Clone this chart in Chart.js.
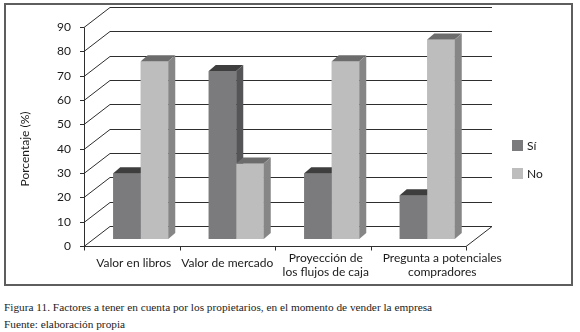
<!DOCTYPE html>
<html>
<head>
<meta charset="utf-8">
<script src="https://cdn.jsdelivr.net/npm/chart.js@4"></script>
<style>
  body { margin: 0; background: #fff; }
  #wrap { position: relative; width: 580px; height: 332px; }
  #chart { position: absolute; left: 0; top: 0; }
  #caption {
    position: absolute; left: 4px; top: 299px;
    font-family: "Liberation Serif", "DejaVu Serif", serif;
    font-size: 11.3px; line-height: 17px; color: #222;
  }
</style>
</head>
<body>
<div id="wrap">
  <canvas id="chart" width="580" height="292"></canvas>
  <div id="caption">
    Figura 11. Factores a tener en cuenta por los propietarios, en el momento de vender la empresa<br>
    Fuente: elaboración propia
  </div>
</div>
<script>
const categories = [
  ["Valor en libros"],
  ["Valor de mercado"],
  ["Proyección de", "los flujos de caja"],
  ["Pregunta a potenciales", "compradores"]
];
const siValues = [27, 69, 27, 18];
const noValues = [73, 31, 73, 82];
const yTicks = [0, 10, 20, 30, 40, 50, 60, 70, 80, 90];

// 3d look: offsets from the bar plane
const FRONT = { dx: -9, dy: 7 };
const BACK = { dx: 17, dy: -13 };
const DEPTH = { dx: 7, dy: -6 };
const labelShift = [2, 0, 3, 24];
const faces = [
  { front: "#7b7b7d", top: "#3e3e3e", side: "#555557" },
  { front: "#bdbdbd", top: "#6c6c6c", side: "#868686" }
];
const font = '12px Lato, "Liberation Sans", sans-serif';

const box3d = {
  id: "box3d",
  beforeDatasetsDraw(chart) {
    const { ctx } = chart;
    const x = chart.scales.x, y = chart.scales.y;
    const a = chart.chartArea;
    ctx.save();
    ctx.strokeStyle = "#2e2e2e";
    ctx.lineWidth = 1;
    ctx.fillStyle = "#1a1a1a";
    ctx.font = font;
    ctx.textAlign = "right";
    ctx.textBaseline = "middle";
    yTicks.forEach(v => {
      const yp = Math.round(y.getPixelForValue(v)) + 0.5;
      ctx.beginPath();
      ctx.moveTo(a.left + FRONT.dx - 4, yp + FRONT.dy);
      ctx.lineTo(a.left + FRONT.dx, yp + FRONT.dy);
      ctx.lineTo(a.left + BACK.dx, yp + BACK.dy);
      ctx.lineTo(a.right + BACK.dx, yp + BACK.dy);
      ctx.stroke();
      ctx.fillText(String(v), a.left + FRONT.dx - 13, yp + FRONT.dy);
    });
    const y0 = Math.round(y.getPixelForValue(0)) + 0.5;
    const yTop = Math.round(y.getPixelForValue(yTicks[yTicks.length - 1])) + 0.5;
    const fx = Math.round(a.left + FRONT.dx) + 0.5;
    ctx.beginPath();
    ctx.moveTo(fx, y0 + FRONT.dy);
    ctx.lineTo(fx, yTop + FRONT.dy);
    ctx.moveTo(a.left + FRONT.dx, y0 + FRONT.dy);
    ctx.lineTo(a.right + FRONT.dx, y0 + FRONT.dy);
    ctx.lineTo(a.right + BACK.dx, y0 + BACK.dy);
    for (let i = 0; i <= categories.length; i++) {
      const xb = Math.round(x.getPixelForValue(i - 0.5) + FRONT.dx) + 0.5;
      ctx.moveTo(xb, y0 + FRONT.dy);
      ctx.lineTo(xb, y0 + FRONT.dy + 4);
    }
    ctx.stroke();

    // category labels
    ctx.textAlign = "center";
    categories.forEach((lines, i) => {
      const cx = x.getPixelForValue(i) + FRONT.dx + labelShift[i];
      const base = y0 + FRONT.dy + (lines.length === 1 ? 17 : 12);
      lines.forEach((t, j) => ctx.fillText(t, cx, base + j * 14));
    });

    // axis title
    ctx.save();
    ctx.translate(25, 149);
    ctx.rotate(-Math.PI / 2);
    ctx.fillText("Porcentaje (%)", 0, 0);
    ctx.restore();

    // legend
    ctx.textAlign = "left";
    chart.data.datasets.forEach((ds, i) => {
      const ly = 140 + i * 28;
      ctx.fillStyle = faces[i].front;
      ctx.fillRect(512, ly, 11, 11);
      ctx.fillStyle = "#1a1a1a";
      ctx.fillText(ds.label, 527, ly + 6);
    });

    // outer frame
    ctx.strokeStyle = "#5e5e5e";
    ctx.lineWidth = 2;
    ctx.strokeRect(5, 4, 567, 281);
    ctx.restore();
  },
  afterDatasetsDraw(chart) {
    // redraw left to right so each bar hides the side of the one before it
    const { ctx } = chart;
    ctx.save();
    chart.data.datasets.forEach((ds, di) => {
      const f = faces[di];
      chart.getDatasetMeta(di).data.forEach(el => {
        el.draw(ctx, chart.chartArea);
        const p = el.getProps(["x", "y", "base", "width"], true);
        const l = p.x - p.width / 2, r = p.x + p.width / 2;
        ctx.fillStyle = f.top;
        ctx.beginPath();
        ctx.moveTo(l, p.y);
        ctx.lineTo(l + DEPTH.dx, p.y + DEPTH.dy);
        ctx.lineTo(r + DEPTH.dx, p.y + DEPTH.dy);
        ctx.lineTo(r, p.y);
        ctx.closePath();
        ctx.fill();
        ctx.fillStyle = f.side;
        ctx.beginPath();
        ctx.moveTo(r, p.y);
        ctx.lineTo(r + DEPTH.dx, p.y + DEPTH.dy);
        ctx.lineTo(r + DEPTH.dx, p.base + DEPTH.dy);
        ctx.lineTo(r, p.base);
        ctx.closePath();
        ctx.fill();
      });
    });
    ctx.restore();
  }
};

new Chart(document.getElementById("chart"), {
  type: "bar",
  data: {
    labels: categories,
    datasets: [
      { label: "Sí", data: siValues, backgroundColor: faces[0].front },
      { label: "No", data: noValues, backgroundColor: faces[1].front }
    ]
  },
  options: {
    responsive: false,
    animation: false,
    layout: { padding: { left: 93, top: 20, right: 105, bottom: 53 } },
    datasets: { bar: { categoryPercentage: 0.576, barPercentage: 1, borderWidth: 0 } },
    scales: {
      x: { display: false },
      y: { display: false, min: 0, max: 90 }
    },
    plugins: {
      legend: { display: false },
      tooltip: { enabled: false }
    }
  },
  plugins: [box3d]
});
</script>
</body>
</html>
